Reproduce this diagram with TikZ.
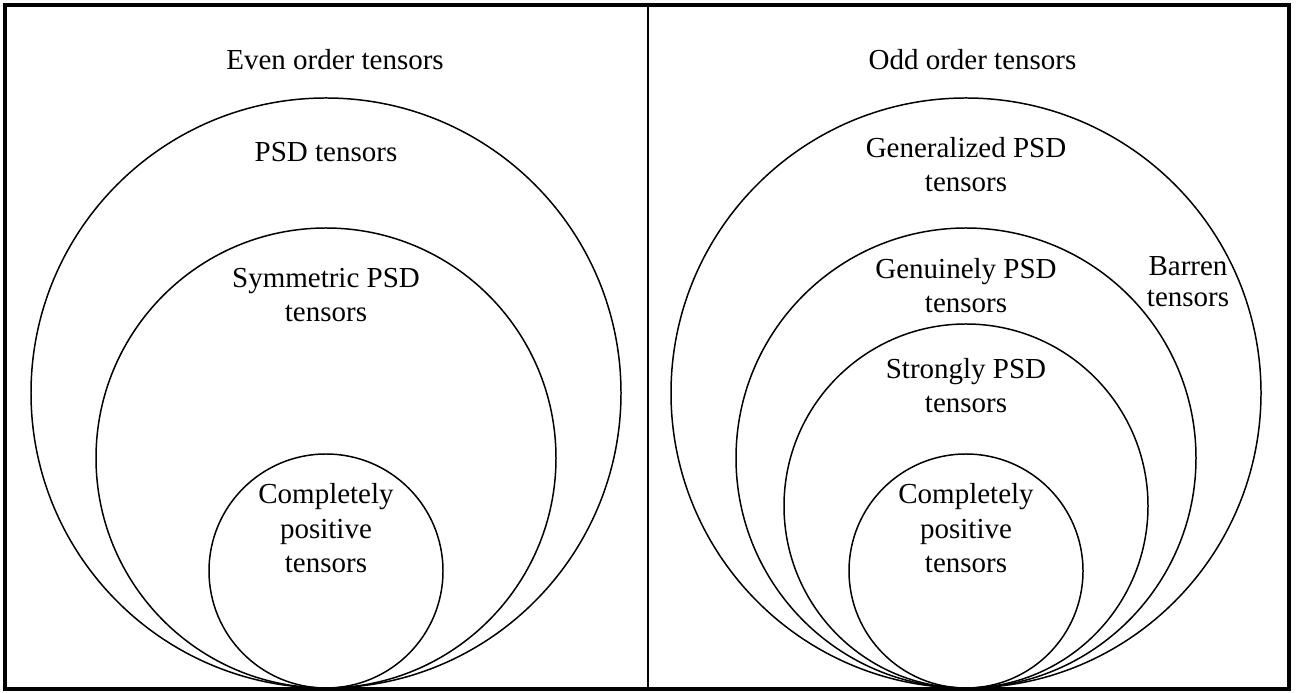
\documentclass[tikz,border=0pt]{standalone}
\usepackage{fontspec}
\setmainfont{Liberation Serif}
\begin{document}
\begin{tikzpicture}[
    set/.style={circle, draw, line width=0.85pt, inner sep=0pt},
    settext/.style={align=center, inner sep=0pt, anchor=base, font=\fontsize{16.5}{19.9}\selectfont},
    border/.style={draw, line width=2pt}
]
\useasboundingbox (0,0) rectangle (25.92,13.86);

% Tenseurs d'ordre pair
\node[set, minimum size=11.8cm] (psd) at (6.52,6.0) {};
\node[set, minimum size=9.2cm] (sympsd) at (6.52,4.7) {};
\node[set, minimum size=4.68cm] (cpleft) at (6.52,2.44) {};

\node[settext] (even) at (6.7,12.46) {Even order tensors};
\node[settext] (psdtxt) at (6.52,10.62) {PSD tensors};
\node[settext] (symtxt) at (6.52,7.42) {Symmetric PSD\\tensors};
\node[settext] (cplefttxt) at (6.52,2.4) {Completely\\positive\\tensors};

% Tenseurs d'ordre impair
\node[set, minimum size=11.8cm] (genpsd) at (19.32,6.0) {};
\node[set, minimum size=9.2cm] (genuine) at (19.32,4.7) {};
\node[set, minimum size=7.28cm] (strong) at (19.32,3.74) {};
\node[set, minimum size=4.68cm] (cpright) at (19.32,2.44) {};

\node[settext] (odd) at (19.45,12.46) {Odd order tensors};
\node[settext] (gentxt) at (19.32,10.02) {Generalized PSD\\tensors};
\node[settext] (genuinetxt) at (19.32,7.6) {Genuinely PSD\\tensors};
\node[settext] (strongtxt) at (19.32,5.6) {Strongly PSD\\tensors};
\node[settext] (cprighttxt) at (19.32,2.4) {Completely\\positive\\tensors};
\node[settext, font=\fontsize{16.5}{18.2}\selectfont] (barren) at (23.76,7.72) {Barren\\tensors};

% Cadre
\draw[border] (0.1,0.08) rectangle (25.78,13.76);
\draw[line width=0.6pt] (12.96,0.08) -- (12.96,13.76);

\end{tikzpicture}
\end{document}
